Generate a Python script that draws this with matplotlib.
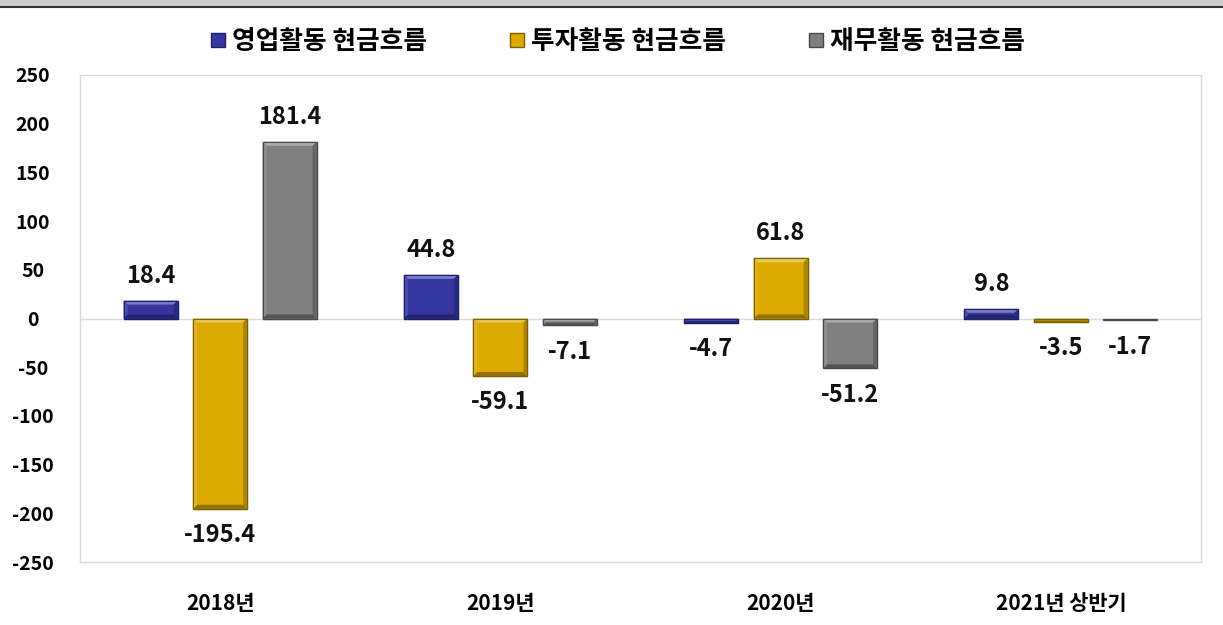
import matplotlib
matplotlib.use("Agg")
import matplotlib.pyplot as plt
import numpy as np
from matplotlib.patches import Rectangle, Polygon
from matplotlib.lines import Line2D
from matplotlib.transforms import IdentityTransform
import matplotlib.colors as mcolors

plt.rcParams['font.family'] = ['Noto Sans CJK KR', 'DejaVu Sans']
plt.rcParams['font.weight'] = 'bold'

categories = ['2018년', '2019년', '2020년', '2021년 상반기']
series_names = ['영업활동 현금흐름', '투자활동 현금흐름', '재무활동 현금흐름']
operating = [18.4, 44.8, -4.7, 9.8]
investing = [-195.4, -59.1, 61.8, -3.5]
financing = [181.4, -7.1, -51.2, -1.7]
yticks = [250, 200, 150, 100, 50, 0, -50, -100, -150, -200, -250]

colors = ['#3636a2', '#dcaa00', '#808080']
edges = ['#20206a', '#7a5f00', '#4a4a4a']


def shade(c, f):
    r, g, b = mcolors.to_rgb(c)
    if f >= 0:
        return (r + (1 - r) * f, g + (1 - g) * f, b + (1 - b) * f)
    f = -f
    return (r * (1 - f), g * (1 - f), b * (1 - f))


fig = plt.figure(figsize=(12.23, 6.25), dpi=100)
ax = fig.add_axes([80/1223, 63/625, (1201-80)/1223, (562-75)/625])

x = np.arange(len(categories))
width = 0.193
step = 0.248
all_series = [operating, investing, financing]

ax.set_xlim(-0.5, len(categories) - 0.5)
ax.set_ylim(-250, 250)

bar_groups = []
for i, vals in enumerate(all_series):
    pos = x + (i - 1) * step
    bars = ax.bar(pos, vals, width, color=colors[i], edgecolor=edges[i], linewidth=1.0, zorder=3)
    bar_groups.append((i, bars))
    for xp, v in zip(pos, vals):
        off = 18 if v >= 0 else -19
        ax.annotate(f'{v:.1f}', (xp, v), xytext=(0, off), textcoords='offset points',
                    ha='center', va='center', fontsize=17, fontweight='bold', color='#111111')

# bevel effect drawn in pixel space around each bar
for i, bars in bar_groups:
    for p in bars.patches:
        bb = p.get_bbox()
        (x0, y0), (x1, y1) = ax.transData.transform([(bb.x0, bb.y0), (bb.x1, bb.y1)])
        xa, xb = min(x0, x1), max(x0, x1)
        ya, yb = min(y0, y1), max(y0, y1)
        h = yb - ya
        d = min(4.0, h / 2.5)
        if h < 2:
            continue
        light = shade(colors[i], 0.35)
        dark = shade(colors[i], -0.35)
        side_l = shade(colors[i], 0.12)
        side_d = shade(colors[i], -0.22)
        polys = [
            ([(xa, yb), (xb, yb), (xb - d, yb - d), (xa + d, yb - d)], light),
            ([(xa, ya), (xb, ya), (xb - d, ya + d), (xa + d, ya + d)], dark),
            ([(xa, ya), (xa + d, ya + d), (xa + d, yb - d), (xa, yb)], side_l),
            ([(xb, ya), (xb - d, ya + d), (xb - d, yb - d), (xb, yb)], side_d),
        ]
        for pts, col in polys:
            fig.add_artist(Polygon(pts, closed=True, transform=IdentityTransform(),
                                   facecolor=col, edgecolor='none', zorder=4))
        fig.add_artist(Rectangle((xa, ya), xb - xa, yb - ya, transform=IdentityTransform(),
                                 facecolor='none', edgecolor=edges[i], linewidth=0.8, zorder=5))

ax.set_yticks(yticks)
ax.set_yticklabels([str(t) for t in yticks], fontsize=14, fontweight='bold')
ax.set_xticks(x)
ax.set_xticklabels(categories, fontsize=15, fontweight='bold')
ax.tick_params(axis='x', length=0, pad=22)
for lab in ax.get_yticklabels():
    lab.set_horizontalalignment('center')
ax.tick_params(axis='y', length=0, pad=34)
for s in ax.spines.values():
    s.set_color('#d9d9d9')
    s.set_linewidth(1.0)
ax.axhline(0, color='#d9d9d9', linewidth=1.0, zorder=2)

handles = [Line2D([], [], marker='s', linestyle='none', markersize=9.5,
                  markerfacecolor=colors[i], markeredgecolor=edges[i]) for i in range(3)]
fig.legend(handles, series_names, loc='center', bbox_to_anchor=(0.503, 0.933), ncol=3,
           frameon=False, handletextpad=0.05, columnspacing=3.0, handlelength=1.0,
           prop={'weight': 'bold', 'size': 18.5})

# top band
fig.patches.append(Rectangle((0, 1 - 6/625), 1, 6/625, transform=fig.transFigure,
                             facecolor='#cccccc', edgecolor='none'))
fig.add_artist(Line2D([0, 1], [1 - 7/625, 1 - 7/625], transform=fig.transFigure,
                      color='#333333', linewidth=1.5))

fig.savefig('out.png', dpi=100)
